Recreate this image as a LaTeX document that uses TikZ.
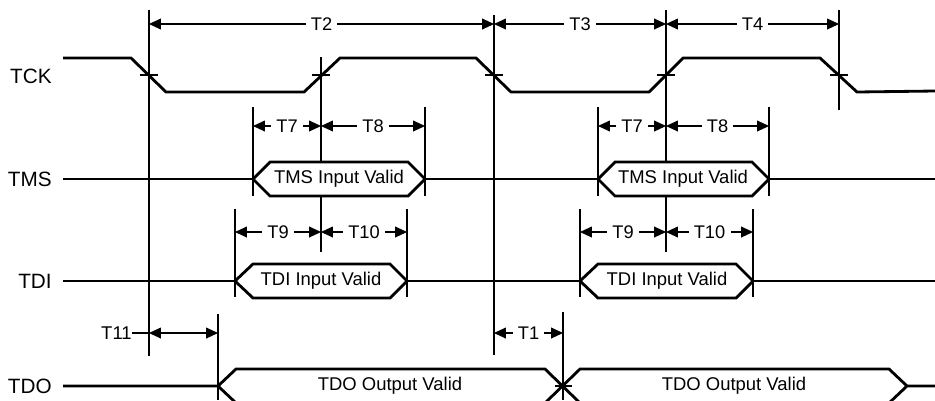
\documentclass[tikz,border=0pt]{standalone}
\usepackage{fontspec}
\setmainfont{Liberation Sans}
\usetikzlibrary{arrows.meta}

\begin{document}
\begin{tikzpicture}[
    x=0.02cm, y=-0.02cm,
    sig/.style   ={line width=1.6pt, line join=miter},
    ext/.style   ={line width=0.6pt},
    dim/.style   ={{Triangle[length=6.8pt,width=6.2pt]}-{Triangle[length=6.8pt,width=6.2pt]}, line width=0.6pt},
    tlbl/.style  ={fill=white, inner xsep=3pt, inner ysep=1pt, font=\fontsize{10.4}{12}\selectfont},
    rowlbl/.style={anchor=east, inner sep=0pt, font=\fontsize{11.8}{13}\selectfont},
    vlbl/.style  ={inner sep=0pt, font=\fontsize{10.5}{12}\selectfont}]
    \useasboundingbox (0,0) rectangle (935,400);
    \clip (0,0) rectangle (935,400);

    % signal names
    \node[rowlbl] (tck) at (52,76)  {TCK};
    \node[rowlbl] (tms) at (52,179) {TMS};
    \node[rowlbl] (tdi) at (52,281) {TDI};
    \node[rowlbl] (tdo) at (52,386) {TDO};

    % extension lines
    \foreach \x/\ya/\yb in {149/10/356, 321/57/252, 494/15/355, 666/10/252, 839/10/110,
                            253/107/196, 425/107/196, 598/107/196, 769/107/196,
                            235/209/297, 407/209/297, 580/209/297, 753/209/297,
                            218/314/400, 563/312/400}
        \draw[ext] (\x,\ya) -- (\x,\yb);

    % TCK clock
    \draw[sig] (63,58) -- (131,58) -- (166,92) -- (304,92) -- (340,58) -- (476,58)
        -- (511,92) -- (649,92) -- (683,58) -- (820,58) -- (857,92) -- (935,91);
    \foreach \x in {149,321,494,666,839}
        \draw[ext] (\x-9,75) -- (\x+9,75);

    % TMS and TDI buses
    \draw[sig] (63,179) -- (253,179)  (425,179) -- (598,179)  (769,179) -- (935,179);
    \draw[sig] (63,281) -- (235,281)  (407,281) -- (580,281)  (753,281) -- (935,281);
    \foreach \a/\b/\c/\d/\y in {253/270/408/425/179, 598/615/752/769/179,
                                235/253/390/407/281, 580/598/736/753/281}
        \draw[sig, fill=white] (\a,\y) -- (\b,\y-17) -- (\c,\y-17) -- (\d,\y) -- (\c,\y+17) -- (\b,\y+17) -- cycle;
    \node[vlbl] (tmsv1) at (339,179) {TMS Input Valid};
    \node[vlbl] (tmsv2) at (683,179) {TMS Input Valid};
    \node[vlbl] (tdiv1) at (321,281) {TDI Input Valid};
    \node[vlbl] (tdiv2) at (667,281) {TDI Input Valid};

    % TDO bus
    \draw[sig] (63,386) -- (218,386) -- (236,369) -- (545,369) -- (580,403) -- (889,403) -- (907,386) -- (935,386);
    \draw[sig] (218,386) -- (236,403) -- (545,403) -- (580,369) -- (889,369) -- (907,386);
    \draw[ext] (555,386) -- (572,386);
    \node[vlbl] (tdov1) at (390,386) {TDO Output Valid};
    \node[vlbl] (tdov2) at (734,386) {TDO Output Valid};

    % timing parameters
    \coordinate (e1) at (149,24);  \coordinate (e2) at (494,24);
    \coordinate (e3) at (666,24);  \coordinate (e4) at (839,24);
    \draw[dim] (e1) -- (e2) node[tlbl, midway] {T2};
    \draw[dim] (e2) -- (e3) node[tlbl, midway] {T3};
    \draw[dim] (e3) -- (e4) node[tlbl, midway] {T4};

    \coordinate (s1) at (253,126); \coordinate (s2) at (321,126); \coordinate (s3) at (425,126);
    \coordinate (s4) at (598,126); \coordinate (s5) at (666,126); \coordinate (s6) at (769,126);
    \draw[dim] (s1) -- (s2) node[tlbl, midway] {T7};
    \draw[dim] (s2) -- (s3) node[tlbl, midway] {T8};
    \draw[dim] (s4) -- (s5) node[tlbl, midway] {T7};
    \draw[dim] (s5) -- (s6) node[tlbl, midway] {T8};

    \coordinate (d1) at (235,232); \coordinate (d2) at (321,232); \coordinate (d3) at (407,232);
    \coordinate (d4) at (580,232); \coordinate (d5) at (666,232); \coordinate (d6) at (753,232);
    \draw[dim] (d1) -- (d2) node[tlbl, midway] {T9};
    \draw[dim] (d2) -- (d3) node[tlbl, midway] {T10};
    \draw[dim] (d4) -- (d5) node[tlbl, midway] {T9};
    \draw[dim] (d5) -- (d6) node[tlbl, midway] {T10};

    \coordinate (o1) at (149,333); \coordinate (o2) at (218,333);
    \coordinate (o3) at (494,333); \coordinate (o4) at (563,333);
    \node[vlbl, anchor=east] (t11) at (132,333) {T11};
    \draw[ext] (t11.east) -- (o1);
    \draw[dim] (o1) -- (o2);
    \draw[dim] (o3) -- (o4) node[tlbl, midway] {T1};
  \end{tikzpicture}
\end{document}
